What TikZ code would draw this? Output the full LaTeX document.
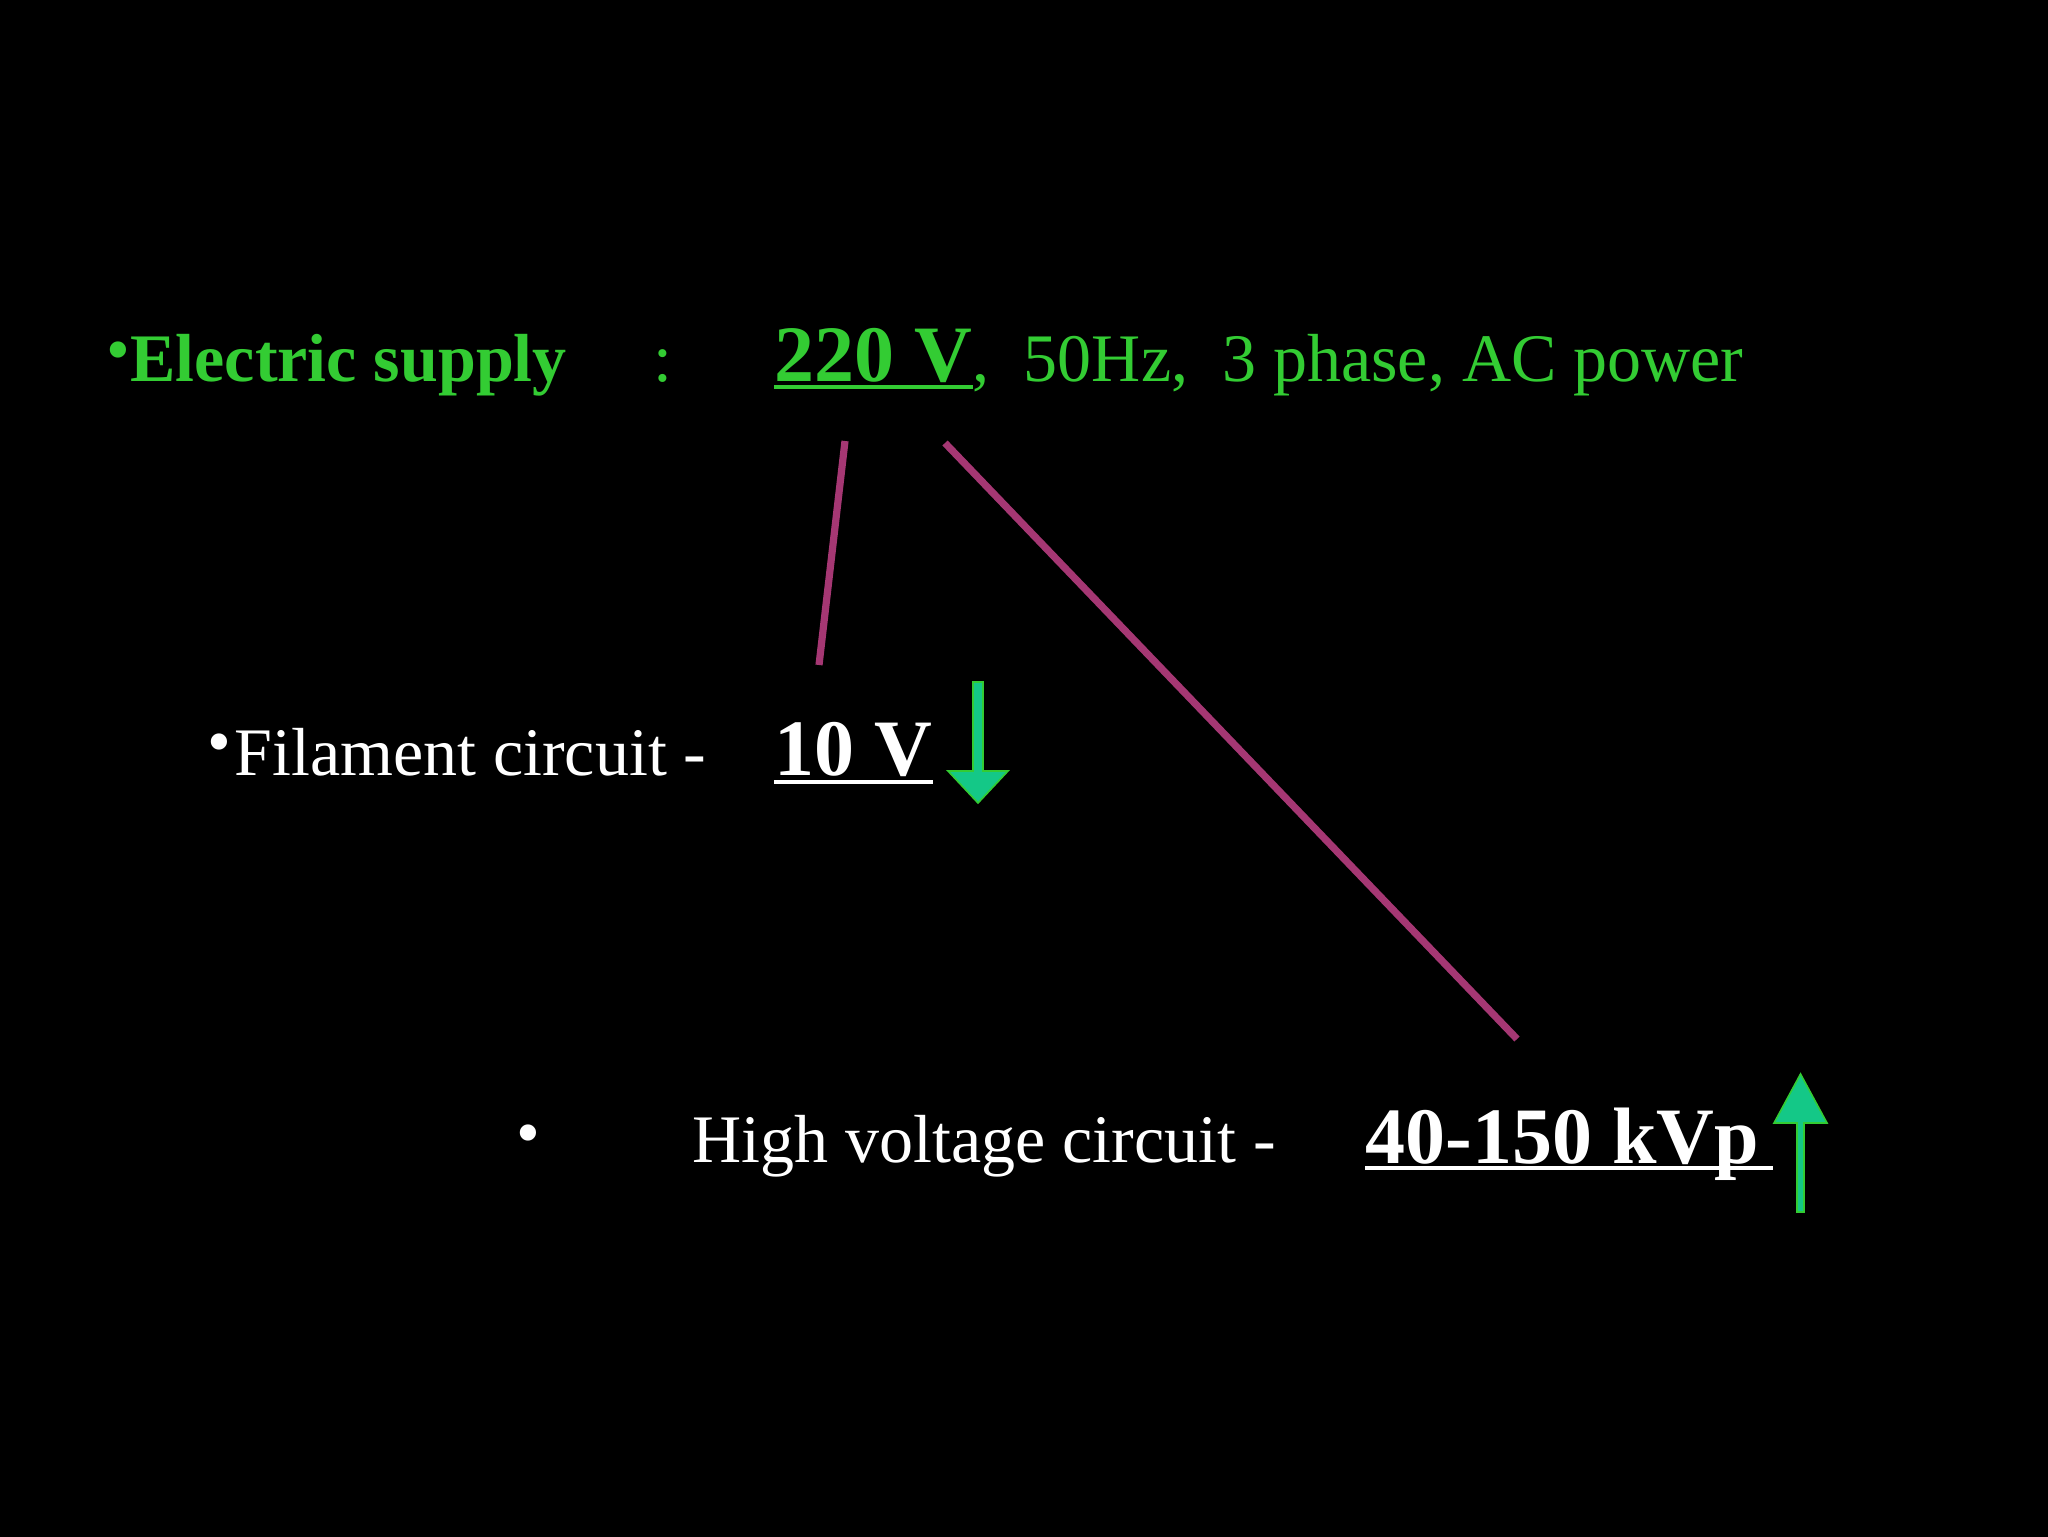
\documentclass[tikz,border=0pt]{standalone}
\usepackage{fontspec}
\setmainfont{Liberation Serif}
\definecolor{sgreen}{RGB}{51,204,51}
\definecolor{agreen}{RGB}{20,200,135}
\definecolor{lmag}{RGB}{165,55,115}
\begin{document}
\begin{tikzpicture}[x=0.5pt,y=-0.5pt,
  txt/.style={inner sep=0pt, anchor=base west, font=\fontsize{34}{40}\selectfont},
  btxt/.style={inner sep=0pt, anchor=base west, font=\fontsize{34}{40}\selectfont\bfseries},
  val/.style={inner sep=0pt, anchor=base west, font=\fontsize{40}{48}\selectfont\bfseries},
  bul/.style={inner sep=0pt, anchor=base, font=\fontsize{34}{40}\selectfont},
  wire/.style={draw=lmag, line width=3.6pt},
  uline/.style={line width=2pt},
  barrow/.style={fill=agreen, draw=sgreen, line width=0.8pt}]
\useasboundingbox (0,0) rectangle (2048,1536);
\fill[black] (-20,-20) rectangle (2068,1556);

% line 1
\node[bul, text=sgreen] (b1) at (118,372) {•};
\node[btxt, text=sgreen] (es) at (130,381) {Electric supply};
\node[txt, text=sgreen] (colon) at (653,381) {:};
\node[val, text=sgreen] (v220) at (774,381) {220 V};
\node[txt, text=sgreen] (rest) at (v220.base east) {,\ \ 50Hz,\ \ 3 phase, AC power};
\draw[sgreen, uline] ([yshift=-3pt]v220.base west) -- ([yshift=-3pt]v220.base east);

% line 2
\node[bul, text=white] (b2) at (219.5,764) {•};
\node[txt, text=white] (fil) at (234,775) {Filament circuit -};
\node[val, text=white] (v10) at (774,775) {10 V};
\draw[white, uline] ([yshift=-3.5pt]v10.base west) -- ([yshift=-3.5pt]v10.base east);

% line 3
\node[bul, text=white] (b3) at (528,1155) {•};
\node[txt, text=white] (hv) at (692,1162) {High voltage circuit -};
\node[val, text=white] (v40) at (1365,1163) {40-150 kVp};
\draw[white, uline] ([yshift=-2.5pt]v40.base west) -- ([yshift=-2.5pt,xshift=7pt]v40.base east);

% magenta wires
\coordinate (w1a) at (845,441);
\coordinate (w1b) at (819,665);
\coordinate (w2a) at (945,443);
\coordinate (w2b) at (1517,1039);
\draw[wire] (w1a) -- (w1b);
\draw[wire] (w2a) -- (w2b);

% block arrows
\draw[barrow] (973,682) -- (983,682) -- (983,771) -- (1008,771) -- (978,803) -- (948,771) -- (973,771) -- cycle;
\draw[barrow] (1797,1212) -- (1804,1212) -- (1804,1123) -- (1827,1123) -- (1800.5,1074) -- (1774,1123) -- (1797,1123) -- cycle;
\end{tikzpicture}
\end{document}
